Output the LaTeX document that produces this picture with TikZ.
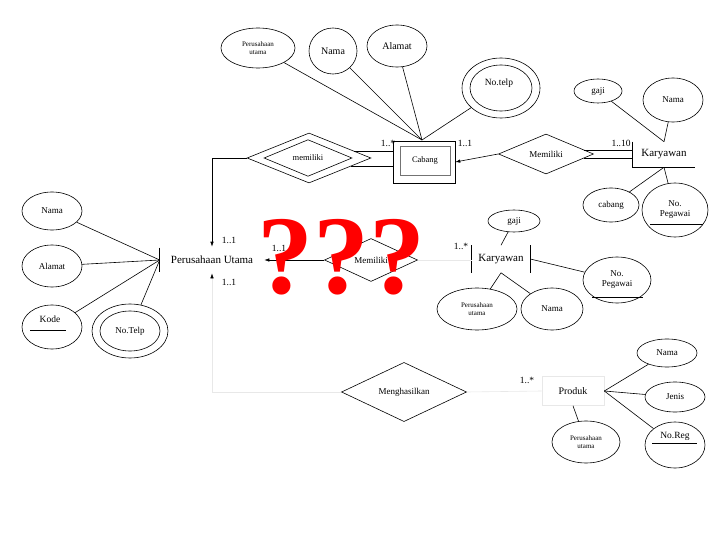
\documentclass[tikz,border=0pt]{standalone}
\usepackage{fontspec}
\setmainfont{Liberation Serif}
\usetikzlibrary{shapes.geometric,arrows.meta,calc}
\begin{document}
\begin{tikzpicture}[x=1pt,y=-1pt,line width=0.6pt,
  sz/.style 2 args={minimum width=#1pt,minimum height=#2pt},
  attr/.style={ellipse,draw,inner sep=0pt,align=center,font=\fontsize{9}{10}\selectfont},
  tinyt/.style={font=\fontsize{7}{8}\selectfont},
  rel/.style={diamond,draw,inner sep=0pt,font=\fontsize{9}{10}\selectfont},
  ent/.style={inner sep=0pt,font=\fontsize{11}{12}\selectfont},
  lbl/.style={inner sep=0pt,font=\fontsize{9.5}{10}\selectfont},
  faint/.style={draw=black!9},
  arr/.style={-{Latex[length=5pt,width=3.5pt,color=black]}}]
\useasboundingbox (0,0) rectangle (720,540);
\fill[white] (0,0) rectangle (720,540);

% ---------- Cabang (weak entity) ----------
\node[draw,sz={62}{42}] (cabango) at (424,162) {};
\node[ent,draw=black!55,sz={50}{29},font=\fontsize{8.5}{9}\selectfont] (cabang) at (425,160.5) {Cabang};
\coordinate (ctop) at (422,140);

\node[attr,tinyt,sz={74}{40}] (tpu) at (258,48) {Perusahaan\\utama};
\node[attr,sz={48}{46},font=\fontsize{10}{11}\selectfont] (tnama) at (333,51) {Nama};
\node[attr,sz={60}{42},font=\fontsize{10}{11}\selectfont] (talamat) at (397,46) {Alamat};
\node[attr,sz={78}{60}] (ttelpo) at (501,88) {};
\node[attr,sz={62}{46}] (ttelpi) at (501,88) {};
\node[lbl] (ttelpt) at (499,83) {No.telp};
\draw (tpu) -- (ctop);
\draw (tnama) -- (ctop);
\draw (talamat) -- (ctop);
\draw (ttelpo) -- (ctop);
\node[lbl] (l1) at (388,143) {1..*};
\node[lbl] (l2) at (465,143) {1..1};

% ---------- memiliki (weak relationship) ----------
\node[rel,sz={124}{50}] (dmo) at (309,158) {};
\node[rel,sz={88}{32},font=\fontsize{8.5}{9}\selectfont] (dmi) at (308,158) {memiliki};
\draw (dmo.9) -- (dmo.9 -| cabango.west);
\draw (dmo.-11) -- (dmo.-11 -| cabango.west);

% ---------- Perusahaan Utama ----------
\node[ent,sz={104}{26}] (pu) at (212,260) {Perusahaan Utama};
\draw ($(pu.north west)+(0,1)$) -- ($(pu.south west)+(0,-1)$);
\draw[arr] (dmo.west) -| (pu.north);
\node[lbl] (l3) at (229,240) {1..1};
\node[lbl] (l4) at (229,282) {1..1};
\node[lbl] (l5) at (279,248) {1..1};

\node[attr,sz={60}{38}] (ln) at (52,211) {Nama};
\node[attr,sz={60}{42}] (la) at (52,266) {Alamat};
\node[attr,sz={60}{44}] (lk) at (52,327) {};
\node[lbl] (lkt) at (50,319) {Kode};
\draw (lk.center) ++(-22,3) coordinate (lku1) -- ++(36,0) coordinate (lku2);
\node[attr,sz={76}{54}] (lto) at (130,331) {};
\node[attr,sz={60}{40}] (lti) at (130,331) {No.Telp};
\draw (pu.west) -- (ln);
\draw (pu.west) -- (la);
\draw (pu.west) -- (lk);
\draw (pu.west) -- (lto);

% ---------- Memiliki (top right) ----------
\node[rel,sz={95}{40}] (dm3) at (546,154) {Memiliki};
\draw[arr] (dm3.west) -- (cabango.east);
\node[ent,sz={62}{25}] (k1) at (664,154.5) {Karyawan};
\draw (k1.north west) -- (k1.south west) -- (k1.south east);
\draw (dm3.6) -- (dm3.6 -| k1.west);
\draw (dm3.-6) -- (dm3.-6 -| k1.west);
\node[lbl] (l6) at (621,143) {1..10};

\node[attr,sz={48}{24}] (kg) at (598,91) {gaji};
\node[attr,sz={60}{44}] (kn) at (673,100) {Nama};
\node[attr,sz={56}{34}] (kc) at (611,205) {cabang};
\node[attr,sz={66}{54}] (kp) at (675,210) {No.\\Pegawai};
\draw ($(kp.center)+(-25,14)$) coordinate (kpu1) -- ++(53,0) coordinate (kpu2);
\draw (kg) -- (k1.north);
\draw (kn) -- (k1.north);
\draw (kc) -- (k1.south);
\draw (kp) -- (k1.south);

% ---------- Memiliki (middle) ----------
\node[rel,sz={93}{43}] (dm2) at (371,260) {Memiliki};
\draw[arr] (dm2.west) -- (pu.east);
\node[ent,sz={58}{27}] (k2) at (501,259) {Karyawan};
\draw (k2.north west) -- (k2.south west);
\draw (k2.north east) -- (k2.south east);
\draw[faint] (dm2.east) -- (dm2.east -| k2.west);
\node[lbl] (l7) at (461,246) {1..*};

\node[attr,sz={52}{22}] (mg) at (514,221) {gaji};
\node[attr,tinyt,sz={80}{42}] (mpu) at (477,309) {Perusahaan\\utama};
\node[attr,sz={62}{42}] (mn) at (552,309) {Nama};
\node[attr,sz={68}{46}] (mp) at (617,280) {No.\\Pegawai};
\draw ($(mp.center)+(-25,17)$) coordinate (mpu1) -- ++(51,0) coordinate (mpu2);
\draw (mg) -- (k2.north);
\draw (mpu) -- (k2.south);
\draw (mn) -- (k2.south);
\draw (k2.east) -- (mp);

% ---------- Menghasilkan / Produk ----------
\node[rel,sz={125}{40}] (dmh) at (404,392) {Menghasilkan};
\draw[faint,arr] (dmh.west) -| (pu.south);
\node[ent,draw=black!9,sz={62}{29},font=\fontsize{10}{11}\selectfont] (pr) at (573,391) {Produk};
\draw[faint] (dmh.east) -- (pr.west);
\node[lbl] (l8) at (527,380) {1..*};

\node[attr,sz={60}{28}] (pn) at (667,353) {Nama};
\node[attr,sz={60}{30}] (pj) at (675,397) {Jenis};
\node[attr,sz={60}{46}] (pnr) at (675,445) {};
\node[lbl] (pnrt) at (675,436) {No.Reg};
\draw ($(pnr.center)+(-23,-2)$) coordinate (pnu1) -- ++(45,0) coordinate (pnu2);
\node[attr,tinyt,sz={68}{42}] (ppu) at (586,442) {Perusahaan\\utama};
\draw (pr.east) -- (pn);
\draw (pr.east) -- (pj);
\draw (pr.east) -- (pnr);
\draw (pr.south) -- (ppu);

% ---------- question marks ----------
\node[inner sep=0pt,text=red,font=\bfseries\fontsize{112}{112}\selectfont] (qm) at (341,257) {???};
\end{tikzpicture}
\end{document}
